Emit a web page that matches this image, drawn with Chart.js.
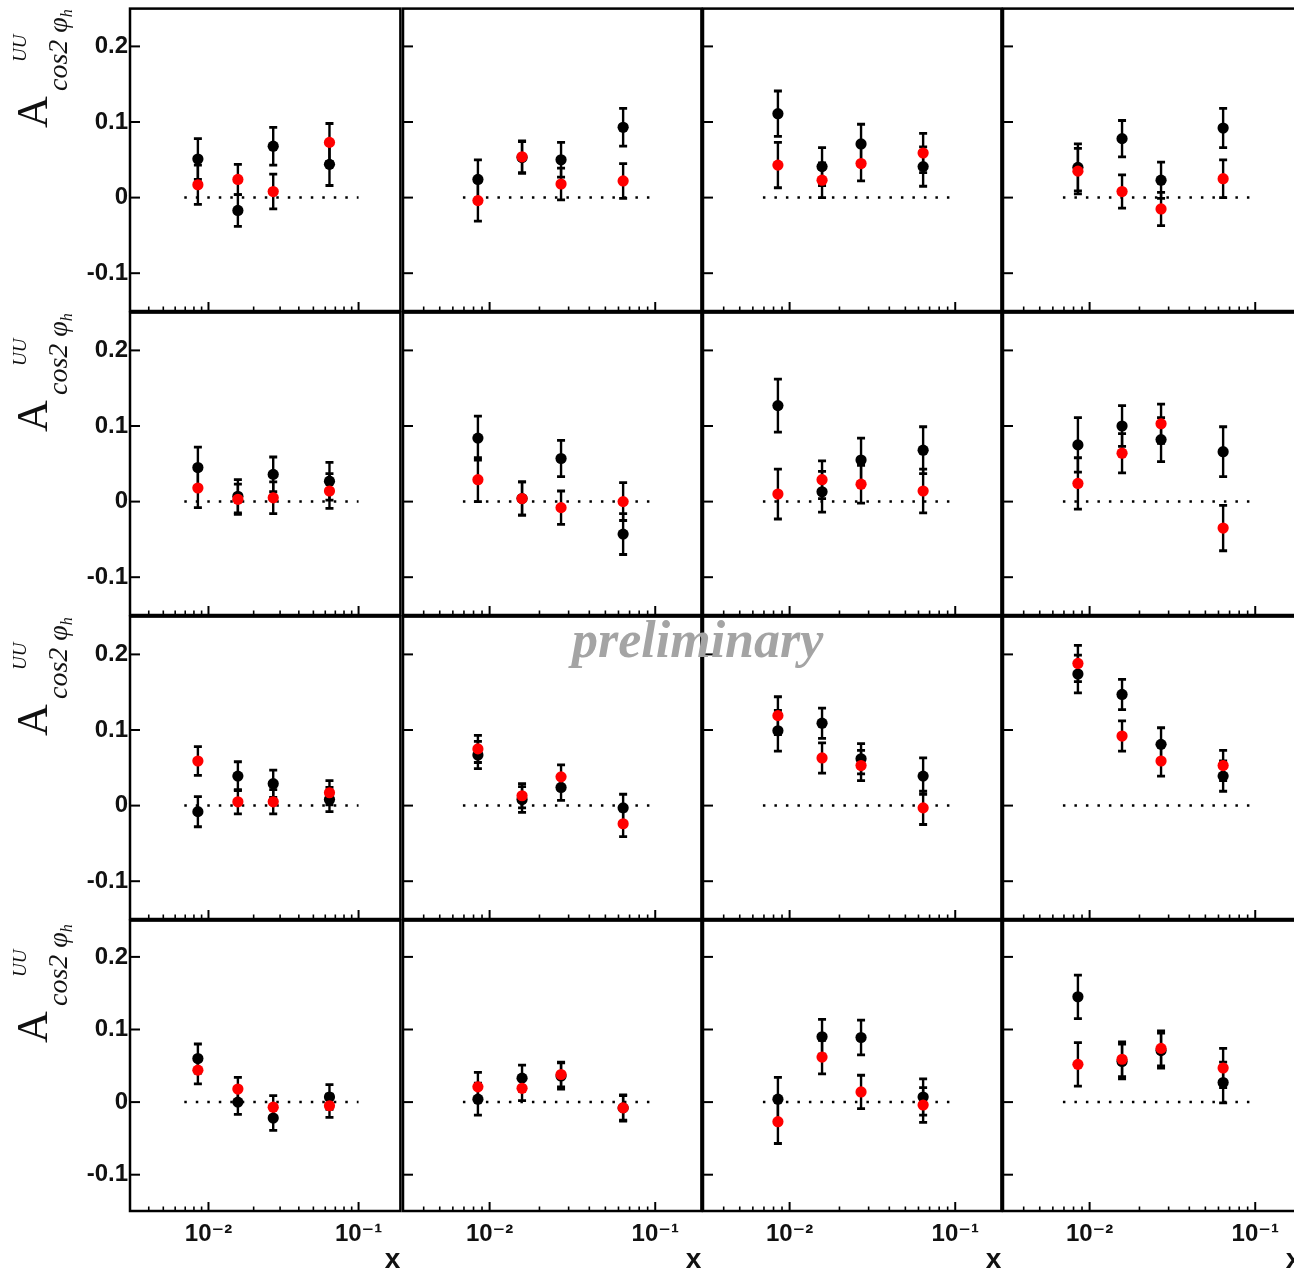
<!DOCTYPE html>
<html><head><meta charset="utf-8">
<script src="https://cdn.jsdelivr.net/npm/chart.js@4/dist/chart.umd.min.js"></script>
<style>
html,body{margin:0;padding:0;background:#fff;width:1294px;height:1273px;overflow:hidden;}
#wrap{position:relative;width:1294px;height:1273px;overflow:hidden;background:#fff;}
canvas{position:absolute;}
.yt{position:absolute;transform:rotate(-90deg);transform-origin:0 0;width:130px;height:66px;font-family:"Liberation Serif","Times New Roman",serif;color:#111;}
.yt .p{position:absolute;white-space:nowrap;line-height:1;}
.yt .h{position:relative;font-size:16px;top:5px;}
.prelim{position:absolute;font-family:"Liberation Serif","Times New Roman",serif;font-style:italic;font-weight:bold;color:#a4a4a4;font-size:52px;line-height:1;white-space:nowrap;}
</style></head><body><div id="wrap"></div>
<script>
// ---- data ----
const xBins = [0.0085, 0.0157, 0.027, 0.064];
const zeroLineX = [0.0069, 0.1];
const yTickValues = [-0.1, 0, 0.1, 0.2];
const yTickLabels = ['-0.1', '0', '0.1', '0.2'];
const xMajorTicks = [0.01, 0.1];
const xTickLabels = ['10\u207B\u00B2', '10\u207B\u00B9'];
const xMinorTicks = [0.003,0.004,0.005,0.006,0.007,0.008,0.009,0.02,0.03,0.04,0.05,0.06,0.07,0.08,0.09];
const xTitle = 'x';
const prelimText = 'preliminary';

// panels in row-major order (4 rows x 4 columns)
const blackY = [
  [0.051,-0.017,0.068,0.044],[0.024,0.053,0.050,0.093],[0.111,0.041,0.071,0.041],[0.040,0.078,0.023,0.092],
  [0.045,0.007,0.036,0.027],[0.084,0.004,0.057,-0.043],[0.127,0.013,0.055,0.068],[0.075,0.100,0.082,0.066],
  [-0.008,0.039,0.029,0.008],[0.067,0.008,0.024,-0.003],[0.099,0.109,0.062,0.039],[0.174,0.147,0.081,0.039],
  [0.060,0.000,-0.022,0.007],[0.004,0.033,0.036,-0.008],[0.004,0.090,0.089,0.007],[0.145,0.056,0.071,0.027]
];
const blackErr = [
  [0.027,0.021,0.025,0.028],[0.026,0.021,0.023,0.025],[0.030,0.025,0.026,0.026],[0.031,0.024,0.024,0.026],
  [0.027,0.022,0.023,0.025],[0.029,0.022,0.024,0.027],[0.035,0.027,0.029,0.031],[0.036,0.027,0.029,0.033],
  [0.020,0.019,0.018,0.016],[0.018,0.017,0.017,0.018],[0.027,0.020,0.020,0.024],[0.025,0.020,0.022,0.020],
  [0.020,0.017,0.017,0.017],[0.022,0.018,0.018,0.018],[0.030,0.024,0.024,0.025],[0.030,0.024,0.024,0.028]
];
const redY = [
  [0.017,0.024,0.008,0.073],[-0.004,0.054,0.018,0.022],[0.043,0.023,0.045,0.059],[0.035,0.008,-0.015,0.025],
  [0.018,0.003,0.005,0.014],[0.029,0.004,-0.008,0.000],[0.010,0.029,0.023,0.014],[0.024,0.064,0.103,-0.035],
  [0.059,0.005,0.005,0.017],[0.075,0.013,0.038,-0.024],[0.119,0.063,0.053,-0.003],[0.188,0.092,0.059,0.053],
  [0.044,0.018,-0.007,-0.005],[0.021,0.019,0.038,-0.008],[-0.027,0.062,0.014,-0.004],[0.052,0.059,0.074,0.047]
];
const redErr = [
  [0.026,0.020,0.023,0.025],[0.027,0.021,0.021,0.023],[0.030,0.023,0.023,0.026],[0.030,0.022,0.022,0.025],
  [0.026,0.020,0.021,0.023],[0.029,0.022,0.022,0.025],[0.033,0.025,0.025,0.029],[0.034,0.026,0.026,0.030],
  [0.019,0.016,0.016,0.016],[0.018,0.016,0.016,0.017],[0.025,0.020,0.020,0.022],[0.024,0.020,0.020,0.020],
  [0.019,0.016,0.016,0.016],[0.020,0.017,0.017,0.017],[0.030,0.023,0.023,0.024],[0.030,0.024,0.024,0.027]
];

// ---- layout ----
const colLeft = [130, 403, 703, 1003];
const colWidth = [272, 300, 300, 300];
const rowTop = [7, 311, 615, 919];
const rowHeight = [304, 304, 304, 292];
const W = 100, H = 63, PAD = 4;

const isMajor = v => xMajorTicks.some(m => Math.abs(m - v) < 1e-9);

const panelPlugin = {
  id: 'panel',
  beforeDatasetDraw(chart, args) {
    const ds = chart.data.datasets[args.index];
    if (!ds.errors) return;
    const ctx = chart.ctx, ys = chart.scales.y;
    ctx.save();
    ctx.strokeStyle = '#000';
    args.meta.data.forEach((pt, i) => {
      const v = ds.data[i].y, e = ds.errors[i];
      const yt = ys.getPixelForValue(v + e), yb = ys.getPixelForValue(v - e);
      ctx.lineWidth = 2.4;
      ctx.beginPath(); ctx.moveTo(pt.x, yt); ctx.lineTo(pt.x, yb); ctx.stroke();
      ctx.lineWidth = 2.8;
      ctx.beginPath();
      ctx.moveTo(pt.x - 4, yt); ctx.lineTo(pt.x + 4, yt);
      ctx.moveTo(pt.x - 4, yb); ctx.lineTo(pt.x + 4, yb);
      ctx.stroke();
    });
    ctx.restore();
  },
  afterDraw(chart) {
    const ctx = chart.ctx, a = chart.chartArea, xs = chart.scales.x, ys = chart.scales.y;
    ctx.save();
    ctx.strokeStyle = '#000';
    xs.ticks.forEach(t => {
      const px = xs.getPixelForValue(t.value);
      const maj = isMajor(t.value);
      ctx.lineWidth = maj ? 2 : 1.6;
      ctx.beginPath(); ctx.moveTo(px, a.bottom); ctx.lineTo(px, a.bottom - (maj ? 9 : 4.5)); ctx.stroke();
    });
    ys.ticks.forEach(t => {
      const py = ys.getPixelForValue(t.value);
      ctx.lineWidth = 2;
      ctx.beginPath(); ctx.moveTo(a.left, py); ctx.lineTo(a.left + 10, py); ctx.stroke();
    });
    ctx.lineWidth = 2.5;
    ctx.strokeRect(a.left, a.top, a.right - a.left, a.bottom - a.top);
    ctx.restore();
  }
};

const wrap = document.getElementById('wrap');
for (let r = 0; r < 4; r++) {
  for (let c = 0; c < 4; c++) {
    const p = r * 4 + c;
    const cv = document.createElement('canvas');
    const cw = W + colWidth[c] + PAD, ch = PAD + rowHeight[r] + H;
    cv.width = cw; cv.height = ch;
    cv.style.left = (colLeft[c] - W) + 'px';
    cv.style.top = (rowTop[r] - PAD) + 'px';
    cv.style.width = cw + 'px'; cv.style.height = ch + 'px';
    wrap.appendChild(cv);
    const showY = c === 0, showX = r === 3;
    new Chart(cv, {
      type: 'scatter',
      data: {
        datasets: [
          { label: 'black', data: xBins.map((x, i) => ({x, y: blackY[p][i]})), errors: blackErr[p],
            backgroundColor: '#000', borderColor: '#000', pointRadius: 5.6, pointBorderWidth: 0, order: 2 },
          { label: 'red', data: xBins.map((x, i) => ({x, y: redY[p][i]})), errors: redErr[p],
            backgroundColor: '#ff0000', borderColor: '#ff0000', pointRadius: 5.6, pointBorderWidth: 0, order: 1 },
          { label: 'zero', data: zeroLineX.map(x => ({x, y: 0})), showLine: true, pointRadius: 0,
            borderColor: '#000', borderWidth: 2.5, borderDash: [2.5, 9], order: 3 }
        ]
      },
      options: {
        responsive: false, animation: false, devicePixelRatio: 1,
        layout: { padding: { top: PAD, right: PAD, left: 0, bottom: 0 } },
        plugins: { legend: { display: false }, tooltip: { enabled: false } },
        scales: {
          x: {
            type: 'logarithmic', min: 0.003, max: 0.19,
            grid: { display: false, drawTicks: false }, border: { display: false },
            afterBuildTicks: s => { s.ticks = xMinorTicks.concat(xMajorTicks).sort((a, b) => a - b).map(v => ({ value: v })); },
            afterFit: s => { s.height = H; s.paddingLeft = 0; s.paddingRight = 0; },
            ticks: {
              display: showX, autoSkip: false, maxRotation: 0, minRotation: 0, padding: 9,
              color: '#111', font: { family: '"Liberation Sans", Arial, "DejaVu Sans", sans-serif', size: 24, weight: 'bold' },
              callback: v => { const k = xMajorTicks.findIndex(m => Math.abs(m - v) < 1e-9); return k >= 0 ? xTickLabels[k] : ''; }
            },
            title: { display: showX, text: xTitle, align: 'end', color: '#111', padding: 0,
              font: { family: '"Liberation Sans", Arial, sans-serif', size: 28, weight: 'bold', lineHeight: 1 } }
          },
          y: {
            type: 'linear', min: -0.15, max: 0.25,
            grid: { display: false, drawTicks: false }, border: { display: false },
            afterBuildTicks: s => { s.ticks = yTickValues.map(v => ({ value: v })); },
            afterFit: s => { s.width = W; s.paddingTop = 0; s.paddingBottom = 0; },
            ticks: {
              display: showY, autoSkip: false, padding: 2, color: '#111',
              font: { family: '"Liberation Sans", Arial, sans-serif', size: 24, weight: 'bold' },
              callback: v => { const k = yTickValues.findIndex(m => Math.abs(m - v) < 1e-9); return k >= 0 ? yTickLabels[k] : ''; }
            }
          }
        }
      },
      plugins: [panelPlugin]
    });
  }
}

// y-axis titles (one per row)
const titleBottom = [128, 432, 736, 1043];
for (let r = 0; r < 4; r++) {
  const d = document.createElement('div');
  d.className = 'yt';
  d.style.left = '10px';
  d.style.top = titleBottom[r] + 'px';
  d.innerHTML = '<span class="p" style="left:0;top:1px;font-size:44px;">A</span>' +
    '<span class="p" style="left:66px;top:0px;font-size:19px;font-style:italic;">UU</span>' +
    '<span class="p" style="left:37px;top:34px;font-size:28px;font-style:italic;">cos2 \u03C6<span class="h">h</span></span>';
  wrap.appendChild(d);
}
const pre = document.createElement('div');
pre.className = 'prelim';
pre.textContent = prelimText;
pre.style.left = '572px';
pre.style.top = '614px';
wrap.appendChild(pre);
</script></body></html>
